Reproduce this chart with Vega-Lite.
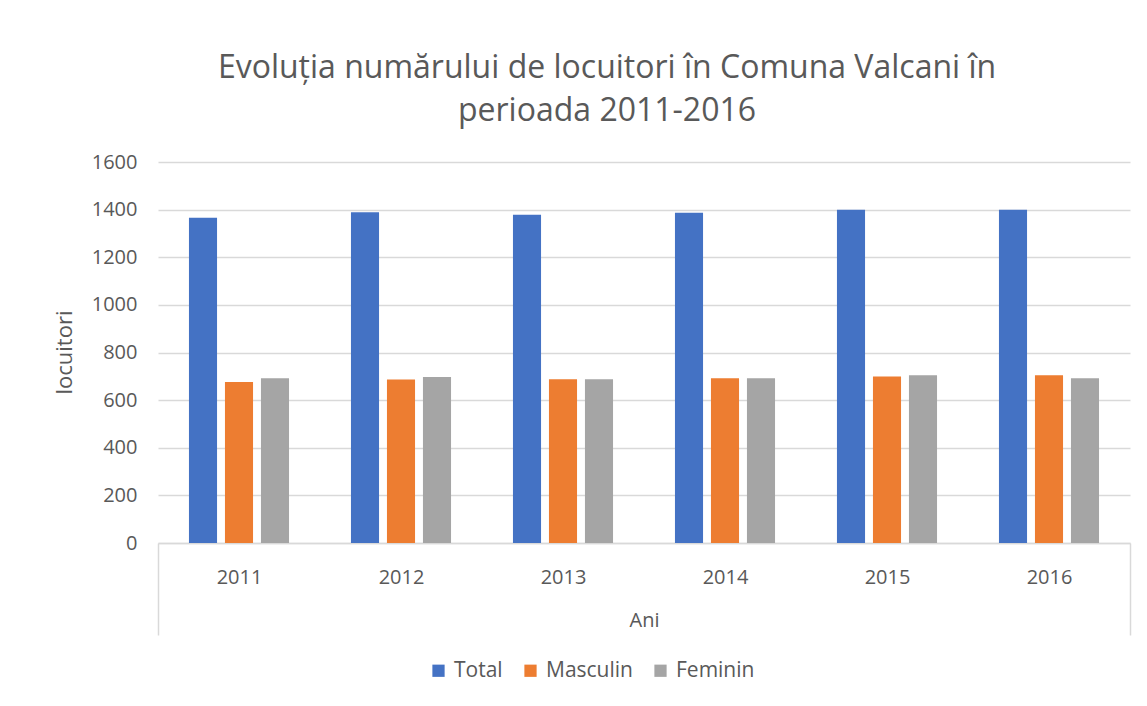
{
  "$schema": "https://vega.github.io/schema/vega-lite/v6.json",
  "width": 972,
  "height": 381,
  "autosize": {"type": "none"},
  "padding": {"left": 158, "top": 162, "right": 17, "bottom": 163},
  "background": "white",
  "title": {
    "text": ["Evoluția numărului de locuitori în Comuna Valcani în", "perioada 2011-2016"],
    "fontSize": 32,
    "font": "Open Sans",
    "fontWeight": "normal",
    "color": "#595959",
    "anchor": "middle",
    "dx": -37,
    "offset": -8,
    "lineHeight": 43,
    "baseline": "bottom"
  },
  "data": {
    "values": [
      {"year": "2011", "serie": "Total", "locuitori": 1366},
      {"year": "2011", "serie": "Masculin", "locuitori": 676},
      {"year": "2011", "serie": "Feminin", "locuitori": 692},
      {"year": "2012", "serie": "Total", "locuitori": 1389},
      {"year": "2012", "serie": "Masculin", "locuitori": 687},
      {"year": "2012", "serie": "Feminin", "locuitori": 697},
      {"year": "2013", "serie": "Total", "locuitori": 1378},
      {"year": "2013", "serie": "Masculin", "locuitori": 688},
      {"year": "2013", "serie": "Feminin", "locuitori": 688},
      {"year": "2014", "serie": "Total", "locuitori": 1387},
      {"year": "2014", "serie": "Masculin", "locuitori": 692},
      {"year": "2014", "serie": "Feminin", "locuitori": 692},
      {"year": "2015", "serie": "Total", "locuitori": 1400},
      {"year": "2015", "serie": "Masculin", "locuitori": 699},
      {"year": "2015", "serie": "Feminin", "locuitori": 704},
      {"year": "2016", "serie": "Total", "locuitori": 1400},
      {"year": "2016", "serie": "Masculin", "locuitori": 704},
      {"year": "2016", "serie": "Feminin", "locuitori": 692}
    ]
  },
  "mark": {"type": "bar"},
  "encoding": {
    "x": {
      "field": "year",
      "type": "nominal",
      "title": "Ani",
      "scale": {"paddingInner": 0, "paddingOuter": 0},
      "axis": {
        "labelAngle": 0,
        "labelFontSize": 20,
        "labelColor": "#595959",
        "domainColor": "#d9d9d9",
        "domainWidth": 1.5,
        "tickBand": "extent",
        "tickSize": 92,
        "tickColor": "#d9d9d9",
        "tickWidth": 1.5,
        "tickOpacity": {"condition": {"test": "datum.value === '2016' || datum.extra", "value": 1}, "value": 0},
        "labelPadding": -68,
        "titleFontSize": 20,
        "titleColor": "#595959",
        "titleFontWeight": "normal",
        "titleY": 77,
        "titleBaseline": "middle",
        "grid": false
      }
    },
    "xOffset": {
      "field": "serie",
      "type": "nominal",
      "sort": ["Total", "Masculin", "Feminin"],
      "scale": {"paddingInner": 0.22, "paddingOuter": 0.86}
    },
    "y": {
      "field": "locuitori",
      "type": "quantitative",
      "title": "locuitori",
      "scale": {"domain": [0, 1600], "nice": false},
      "axis": {
        "values": [0, 200, 400, 600, 800, 1000, 1200, 1400, 1600],
        "format": "d",
        "labelFontSize": 20,
        "labelColor": "#595959",
        "labelPadding": 21,
        "domain": false,
        "ticks": false,
        "gridColor": "#d9d9d9",
        "gridWidth": 1.5,
        "titleFontSize": 22,
        "titleColor": "#595959",
        "titleFontWeight": "normal",
        "titleX": -94,
        "titleY": 190,
        "titleBaseline": "middle",
        "titleAlign": "center"
      }
    },
    "color": {
      "field": "serie",
      "type": "nominal",
      "sort": ["Total", "Masculin", "Feminin"],
      "scale": {"domain": ["Total", "Masculin", "Feminin"], "range": ["#4472C4", "#ED7D31", "#A5A5A5"]},
      "legend": {
        "orient": "none",
        "legendX": 270,
        "legendY": 498,
        "direction": "horizontal",
        "title": null,
        "symbolType": "square",
        "symbolSize": 150,
        "symbolStrokeWidth": 0,
        "labelFontSize": 21,
        "labelColor": "#595959",
        "labelOffset": 5,
        "columnPadding": 17
      }
    }
  },
  "config": {
    "font": "Open Sans",
    "view": {"stroke": null}
  }
}
